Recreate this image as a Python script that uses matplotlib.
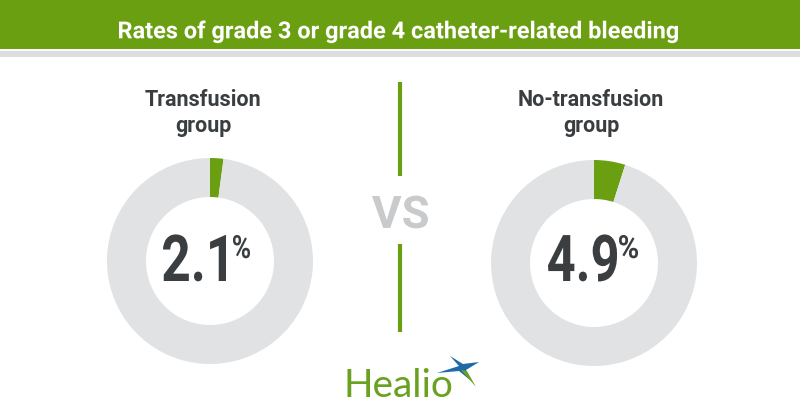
import matplotlib.pyplot as plt
from matplotlib.patches import Rectangle, Polygon
from matplotlib.patheffects import AbstractPathEffect
from matplotlib.transforms import Affine2D, Bbox
from matplotlib.textpath import TextPath
from matplotlib.font_manager import FontProperties

# data
groups = ['Transfusion\ngroup', 'No-transfusion\ngroup']
rates = [2.1, 4.9]
labels = ['2.1', '4.9']
title = 'Rates of grade 3 or grade 4 catheter-related bleeding'

green = '#6a9f12'
ring_gray = '#e1e2e4'
dark = '#3a3e40'
H = 420
DPI = 100


class Squeeze(AbstractPathEffect):
    # narrows a text horizontally: ink centre src -> dst, scaled by sx
    def __init__(self, sx, src, dst):
        super().__init__()
        self.sx, self.src, self.dst = sx, src, dst

    def draw_path(self, renderer, gc, tpath, affine, rgbFace=None):
        a = affine + Affine2D().translate(-self.src, 0).scale(self.sx, 1).translate(self.dst, 0)
        renderer.draw_path(gc, tpath, a, rgbFace)


fig = plt.figure(figsize=(8, 4.2), dpi=DPI)
ax = fig.add_axes([0, 0, 1, 1])
ax.set_xlim(0, 800)
ax.set_ylim(0, H)
ax.axis('off')

squeezed = []  # (text, ink left, ink right)


def cond_text(x0, x1, ybase, s, size, color):
    t = ax.text((x0 + x1) / 2, H - ybase, s, ha='center', va='baseline',
                fontsize=size, fontweight='bold', color=color, family='Roboto')
    squeezed.append((t, x0, x1))
    return t


centers = [(210, H - 261), (594, H - 263)]
label_x = [203, 591]
num_x = [(163, 226), (548, 617)]
pct_x = [(233, 250), (619, 638)]
for (cx, cy), g, r, lab, lx, nx, px in zip(centers, groups, rates, labels,
                                           label_x, num_x, pct_x):
    ax.pie([r, 100 - r], center=(cx, cy), radius=103, startangle=90,
           counterclock=False, colors=[green, ring_gray],
           wedgeprops=dict(width=39, linewidth=0))
    ax.text(lx, H - 113, g, ha='center', va='center', fontsize=15.5,
            fontweight='bold', color=dark, family='Roboto', linespacing=1.25)
    cond_text(nx[0], nx[1], 281, lab, 46.5, dark)
    cond_text(px[0], px[1], 258, '%', 23, dark)

# header
ax.add_patch(Rectangle((0, H - 49), 800, 49, color=green, lw=0))
ax.add_patch(Rectangle((0, H - 57), 800, 6, color='#dcdddf', lw=0))
cond_text(119, 678, 38.3, title, 16.9, 'white')

# divider
ax.plot([400, 400], [H - 82, H - 176], color=green, lw=3, solid_capstyle='butt')
ax.plot([400, 400], [H - 244, H - 332], color=green, lw=3, solid_capstyle='butt')
cond_text(372, 428, 228, 'VS', 32.4, '#c9cacc')

# logo
ax.text(398, H - 386, 'Healio', ha='center', va='center', fontsize=28,
        color='#6aa121', family='Lato')
sx, sy = 462, H - 368
star = [(sx - 12, sy + 12), (sx + 1, sy + 4), (sx + 17, sy + 6), (sx + 4, sy - 2),
        (sx + 8, sy - 12), (sx - 3, sy - 3), (sx - 25, sy - 5), (sx - 3, sy + 2)]
ax.add_patch(Polygon(star, closed=True, color='#1e6aa8', lw=0))
ax.add_patch(Polygon([(sx - 1, sy - 2), (sx + 14, sy - 19), (sx + 5, sy - 3)],
                     closed=True, color='#6aa121', lw=0))

ax.set_xlim(0, 800)
ax.set_ylim(0, H)
ax.set_aspect('auto')

# measure the ink of each text, then squeeze it into its target span
fig.canvas.draw()
renderer = fig.canvas.get_renderer()
for t, x0, x1 in squeezed:
    bb = t.get_window_extent(renderer)
    prop = FontProperties(family='Roboto', weight='bold')
    e = TextPath((0, 0), t.get_text(), size=t.get_fontsize() * DPI / 72,
                 prop=prop).get_extents()
    ink_c = bb.x0 + (e.x0 + e.x1) / 2
    t.set_path_effects([Squeeze((x1 - x0) / e.width, ink_c, (x0 + x1) / 2)])
    box = Bbox.from_extents(x0, bb.y0, x1, bb.y1)
    t.get_window_extent = lambda renderer=None, dpi=None, b=box: b

fig.savefig('out.png', dpi=DPI, facecolor='white')
